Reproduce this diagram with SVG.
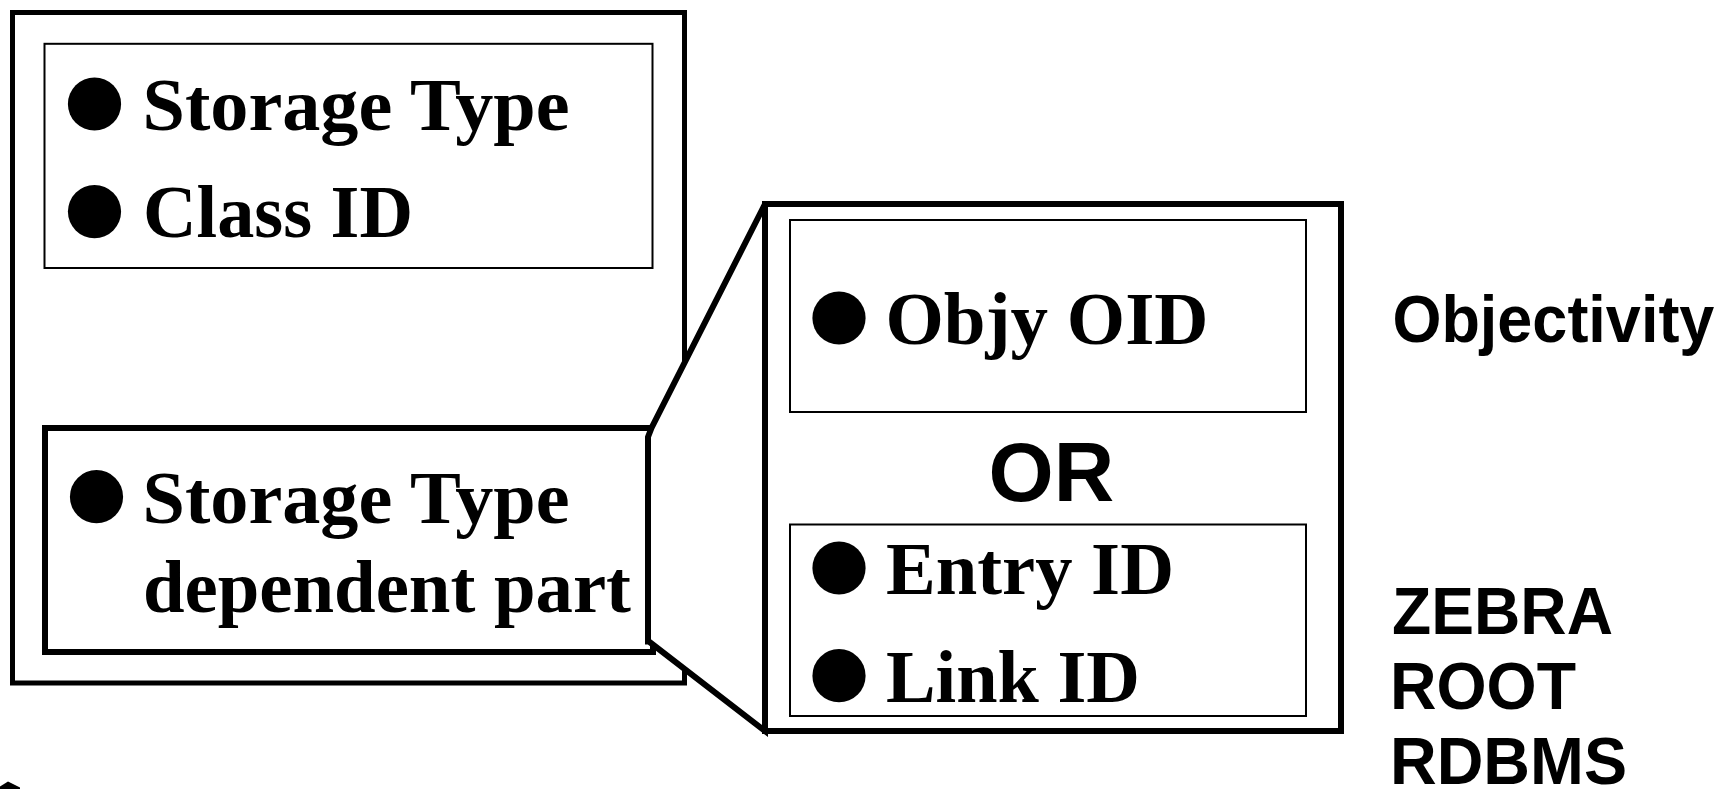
<svg xmlns="http://www.w3.org/2000/svg" width="1722" height="789" viewBox="0 0 1722 789">
<style>
.bg{fill:#ffffff}
.outer{fill:none;stroke:#000;stroke-width:5}
.thin{fill:none;stroke:#000;stroke-width:2}
.thick{fill:#fff;stroke:#000;stroke-width:6}
.callout{fill:#fff;stroke:#000;stroke-width:6;stroke-linejoin:miter}
.dot{fill:#000}
.serif{font-family:"Liberation Serif","Times New Roman",serif;font-weight:bold;font-size:75px;fill:#000}
.sans{font-family:"Liberation Sans",Arial,sans-serif;font-weight:bold;font-size:66px;fill:#000}
.or{font-family:"Liberation Sans",Arial,sans-serif;font-weight:bold;font-size:84px;fill:#000}
</style>
<rect class="bg" x="0" y="0" width="1722" height="789"/>
<g id="outer-box">
<rect class="outer" x="12.5" y="12.5" width="672" height="670.5"/>
</g>
<g id="common-part">
<rect class="thin" x="44.5" y="43.8" width="608" height="224.2"/>
<circle class="dot" cx="94.5" cy="104" r="26.6"/>
<text class="serif" x="142.5" y="130" textLength="427" lengthAdjust="spacingAndGlyphs">Storage Type</text>
<circle class="dot" cx="94.5" cy="211.6" r="26.6"/>
<text class="serif" x="143" y="237" textLength="270" lengthAdjust="spacingAndGlyphs">Class ID</text>
</g>
<g id="dependent-part">
<rect class="thick" x="45" y="428" width="608" height="224"/>
<circle class="dot" cx="96.5" cy="496.7" r="26.6"/>
<text class="serif" x="142.5" y="522.7" textLength="427" lengthAdjust="spacingAndGlyphs">Storage Type</text>
<text class="serif" x="143" y="612" textLength="488" lengthAdjust="spacingAndGlyphs">dependent part</text>
</g>
<g id="connectors">
<polygon class="callout" points="648,437 651.5,428 765,204 765,731 649,641.5 648,641.5"/>
</g>
<g id="detail-box">
<rect class="thick" x="765" y="204" width="576" height="527"/>
</g>
<g id="objy-box">
<rect class="thin" x="790" y="220" width="516" height="192"/>
<circle class="dot" cx="839" cy="318" r="26.6"/>
<text class="serif" x="885.5" y="344" textLength="323" lengthAdjust="spacingAndGlyphs">Objy OID</text>
</g>
<g id="or-label">
<text class="or" x="988.6" y="501" textLength="125.6" lengthAdjust="spacingAndGlyphs">OR</text>
</g>
<g id="entry-box">
<rect class="thin" x="790" y="524.5" width="516" height="191.5"/>
<circle class="dot" cx="839" cy="568" r="26.6"/>
<text class="serif" x="886" y="594" textLength="288" lengthAdjust="spacingAndGlyphs">Entry ID</text>
<circle class="dot" cx="839" cy="675.7" r="26.6"/>
<text class="serif" x="886" y="701.7" textLength="254" lengthAdjust="spacingAndGlyphs">Link ID</text>
</g>
<g id="labels">
<text class="sans" x="1392.4" y="341.5" textLength="322" lengthAdjust="spacingAndGlyphs">Objectivity</text>
<text class="sans" x="1392" y="634" textLength="221" lengthAdjust="spacingAndGlyphs">ZEBRA</text>
<text class="sans" x="1390" y="709" textLength="186" lengthAdjust="spacingAndGlyphs">ROOT</text>
<text class="sans" x="1390" y="784" textLength="237" lengthAdjust="spacingAndGlyphs">RDBMS</text>
</g>
<g id="edge-fragment">
<polygon class="dot" points="0,789 0,786.5 8,781.5 20,787.5 20,789"/>
</g>
</svg>
